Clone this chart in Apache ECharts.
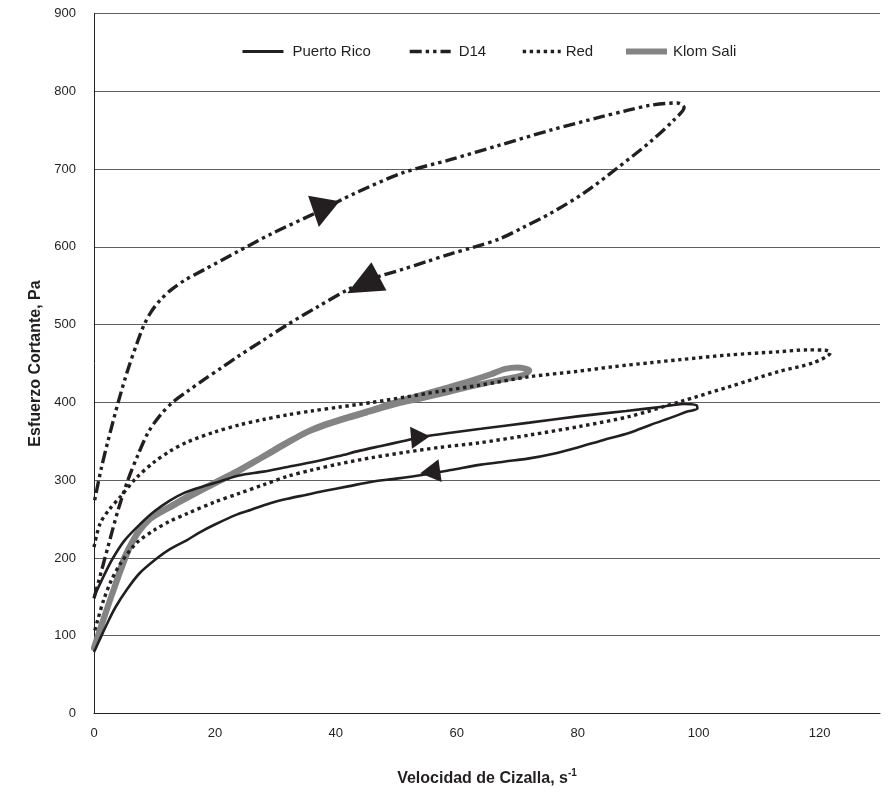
<!DOCTYPE html>
<html>
<head>
<meta charset="utf-8">
<script src="https://cdn.jsdelivr.net/npm/echarts@6/dist/echarts.min.js"></script>
<style>
html,body{margin:0;padding:0;background:#fff;}
#chart{width:893px;height:796px;}
</style>
</head>
<body>
<div id="chart"></div>
<script>
// ---- data (shear rate s^-1, shear stress Pa) ----
const seriesNames = ['Puerto Rico', 'D14', 'Red', 'Klom Sali'];
const xTicks = [0, 20, 40, 60, 80, 100, 120];
const yTicks = [0, 100, 200, 300, 400, 500, 600, 700, 800, 900];

const puertoRico = [
  [0,150],[1.5,175],[3,198],[5,222],[7.7,244],[10,260],[12.6,274],[15,284],[18,292],[21,299],
  [24,306],[28,311],[32,317],[36,323],[40.5,331],[44,338],[47.5,344],[51,350],[54.5,356],[59,361],
  [64,366],[72,374],[80,382],[88,389],[94,394.5],[97.5,398],[99.6,396.5],[99.8,392],[98,388],[96,382],
  [92,371],[88.6,361],[84,351],[80,342],[76,334],[72,328],[68,324],[64,320],[59,313],[54.5,307],
  [50,302],[46,298],[42,292],[38,286],[35,281],[32,276],[29,270],[26,262],[23.7,256],[20,243],
  [17.5,233],[15.4,223],[12.5,211],[10,197],[7.5,180],[5.5,160],[3.5,136],[2.2,116],[1,96],[0,79]
];

const d14 = [
  [0,148],[0.7,168],[2.3,214],[4,262],[5.6,300],[7.3,333],[9,362],[11,384],[13,400],[15.6,415],
  [18.3,430],[21,444],[23.8,459],[28,480],[32,500],[37,523],[42,545],[46,559],[51,571],[55,581],
  [59,591],[63,600],[67,610],[71,625],[75.5,643],[81,669],[86.5,701],[92,735],[95.9,763],[97.6,779],
  [96.5,785],[92,782],[88,775],[83.8,767],[75.5,750],[67.2,731],[58.9,712],[51,695],[43.2,669],[36.5,643],
  [29.4,617],[23.8,594],[18.3,571],[15,557],[12.8,545],[11,532],[9.5,517],[8.3,500],[7.3,480],[5.6,442],
  [4,400],[2.3,350],[1.2,315],[0,270]
];

const red = [
  [0,214],[1,244],[2.5,262],[4.4,279],[7,303],[9.9,323],[12.5,337],[15.4,349],[20,362],[24,371],
  [28,378],[32,384],[36,389],[40.6,394],[46,400],[51.6,407],[57,414],[63.7,422],[72,433],[80,440],
  [86,446],[92,451],[97,455],[105,461],[113,465],[118,467.5],[121,467],[121.8,464],[119,451],[113.4,440],
  [105,420],[97,401],[88.6,382],[80.3,369],[72,358],[63.7,348],[57,342],[51.6,336],[46,329],[40.6,321],
  [36,313],[32,305],[28,294],[24,283],[20,272],[15.4,257],[12.5,247],[10,236],[7,219],[4.4,193],
  [2.8,170],[1.6,146],[0.6,120],[0,103]
];

const klomSali = [
  [0,85],[1.5,120],[3.4,163],[5,200],[6.2,219],[7.5,236],[9,249],[10.8,259],[12.8,267],[15.5,279],
  [18.3,290],[21,301],[24,313],[27,326],[30,340],[33,353],[35.2,362],[38,371],[42,381],[45.5,389],
  [49,398],[53,407],[58,418],[62,427],[65.6,436],[68,443],[70,445],[72,441],[71,435],[68,430],
  [65.6,426],[62,420],[58.4,413],[54,405],[50,398],[45.5,388],[42,380],[38,370],[35,361],[30,339],
  [24,312],[18.3,289],[12.8,266],[9,248],[6.2,218],[3.4,162],[1.5,119],[0,84]
];

// direction-arrow positions (data units)
const arrowPoints = [[37.6,643.7],[44.5,551.2],[54.0,355.5],[55.6,310.6]];
// arrow styles (rotation degrees, size px)
const arrowRotate = [170, 118, 275, 98];
const arrowSize = [[32,29],[32,36],[22,19],[23,20]];

const ink = '#231f20';
const font = 'Liberation Sans, Arial, sans-serif';

// one legend block per series, placed like the original
const legendLeft = [241, 408, 521, 623];
const legendItemWidth = [41, 41, 38, 41];
const legendTextPad = [4, 3, 0, 1];
const legendLineWidth = [3, 3.4, 3.4, 6];
const legends = seriesNames.map((n, i) => ({
  data: [n],
  left: legendLeft[i], top: 44, padding: 0,
  itemWidth: legendItemWidth[i], itemHeight: 14, itemGap: 0,
  selectedMode: false,
  itemStyle: {opacity: 0, borderWidth: 0},
  lineStyle: {width: legendLineWidth[i], cap: 'butt'},
  textStyle: {fontSize: 15, color: ink, fontFamily: font, padding: [0, 0, 0, legendTextPad[i]]}
}));

const chart = echarts.init(document.getElementById('chart'), null, {renderer:'canvas'});
const option = {
  animation: false,
  backgroundColor: '#fff',
  textStyle: {fontFamily: font, color: ink},
  grid: {left: 94, right: 13, top: 13.5, bottom: 82.5, containLabel: false},
  legend: legends,
  xAxis: {
    type: 'value', min: 0, max: 130, interval: 20,
    name: '{b|Velocidad de Cizalla, s}{sup|-1}',
    nameLocation: 'middle', nameGap: 55,
    nameTextStyle: {
      rich: {
        b: {fontSize: 16, fontWeight: 'bold', color: ink, fontFamily: font},
        sup: {fontSize: 10, fontWeight: 'bold', color: ink, verticalAlign: 'top', padding: [0,0,10,0], fontFamily: font}
      }
    },
    axisLine: {show: true, lineStyle: {color: ink, width: 1}},
    axisTick: {show: false},
    axisLabel: {fontSize: 13, color: ink, margin: 13, showMaxLabel: false,
      formatter: v => xTicks.includes(v) ? String(v) : ''},
    splitLine: {show: false}
  },
  yAxis: {
    type: 'value', min: 0, max: 900, interval: 100,
    name: 'Esfuerzo Cortante, Pa',
    nameLocation: 'middle', nameGap: 49,
    nameTextStyle: {fontSize: 16, fontWeight: 'bold', color: ink},
    axisLine: {show: true, lineStyle: {color: ink, width: 1}},
    axisTick: {show: false},
    axisLabel: {fontSize: 13, color: ink, margin: 18,
      formatter: v => yTicks.includes(v) ? String(v) : ''},
    splitLine: {show: true, lineStyle: {color: '#5f6062', width: 1}}
  },
  series: [
    {name: 'Puerto Rico', type: 'line', data: puertoRico, smooth: 0.3, symbol: 'none',
     lineStyle: {color: ink, width: 2.6}, itemStyle: {color: ink}, z: 3},
    {name: 'D14', type: 'line', data: d14, smooth: 0.3, symbol: 'none',
     lineStyle: {color: ink, width: 3.4, type: [12,4,3.4,4,3.4,4], cap: 'butt'}, itemStyle: {color: ink}, z: 3},
    {name: 'Red', type: 'line', data: red, smooth: 0.3, symbol: 'none',
     lineStyle: {color: ink, width: 3.4, type: [3.4,3.6], cap: 'butt'}, itemStyle: {color: ink}, z: 3},
    {name: 'Klom Sali', type: 'line', data: klomSali, smooth: 0.3, symbol: 'none',
     lineStyle: {color: '#848484', width: 6, cap: 'round', join: 'round'}, itemStyle: {color: '#848484'}, z: 2},
    {name: 'arrows', type: 'scatter', silent: true, z: 5,
     data: arrowPoints.map((p, i) => ({value: p, symbolRotate: arrowRotate[i], symbolSize: arrowSize[i]})),
     symbol: 'triangle', itemStyle: {color: ink, opacity: 1}}
  ]
};
chart.setOption(option);
</script>
</body>
</html>
